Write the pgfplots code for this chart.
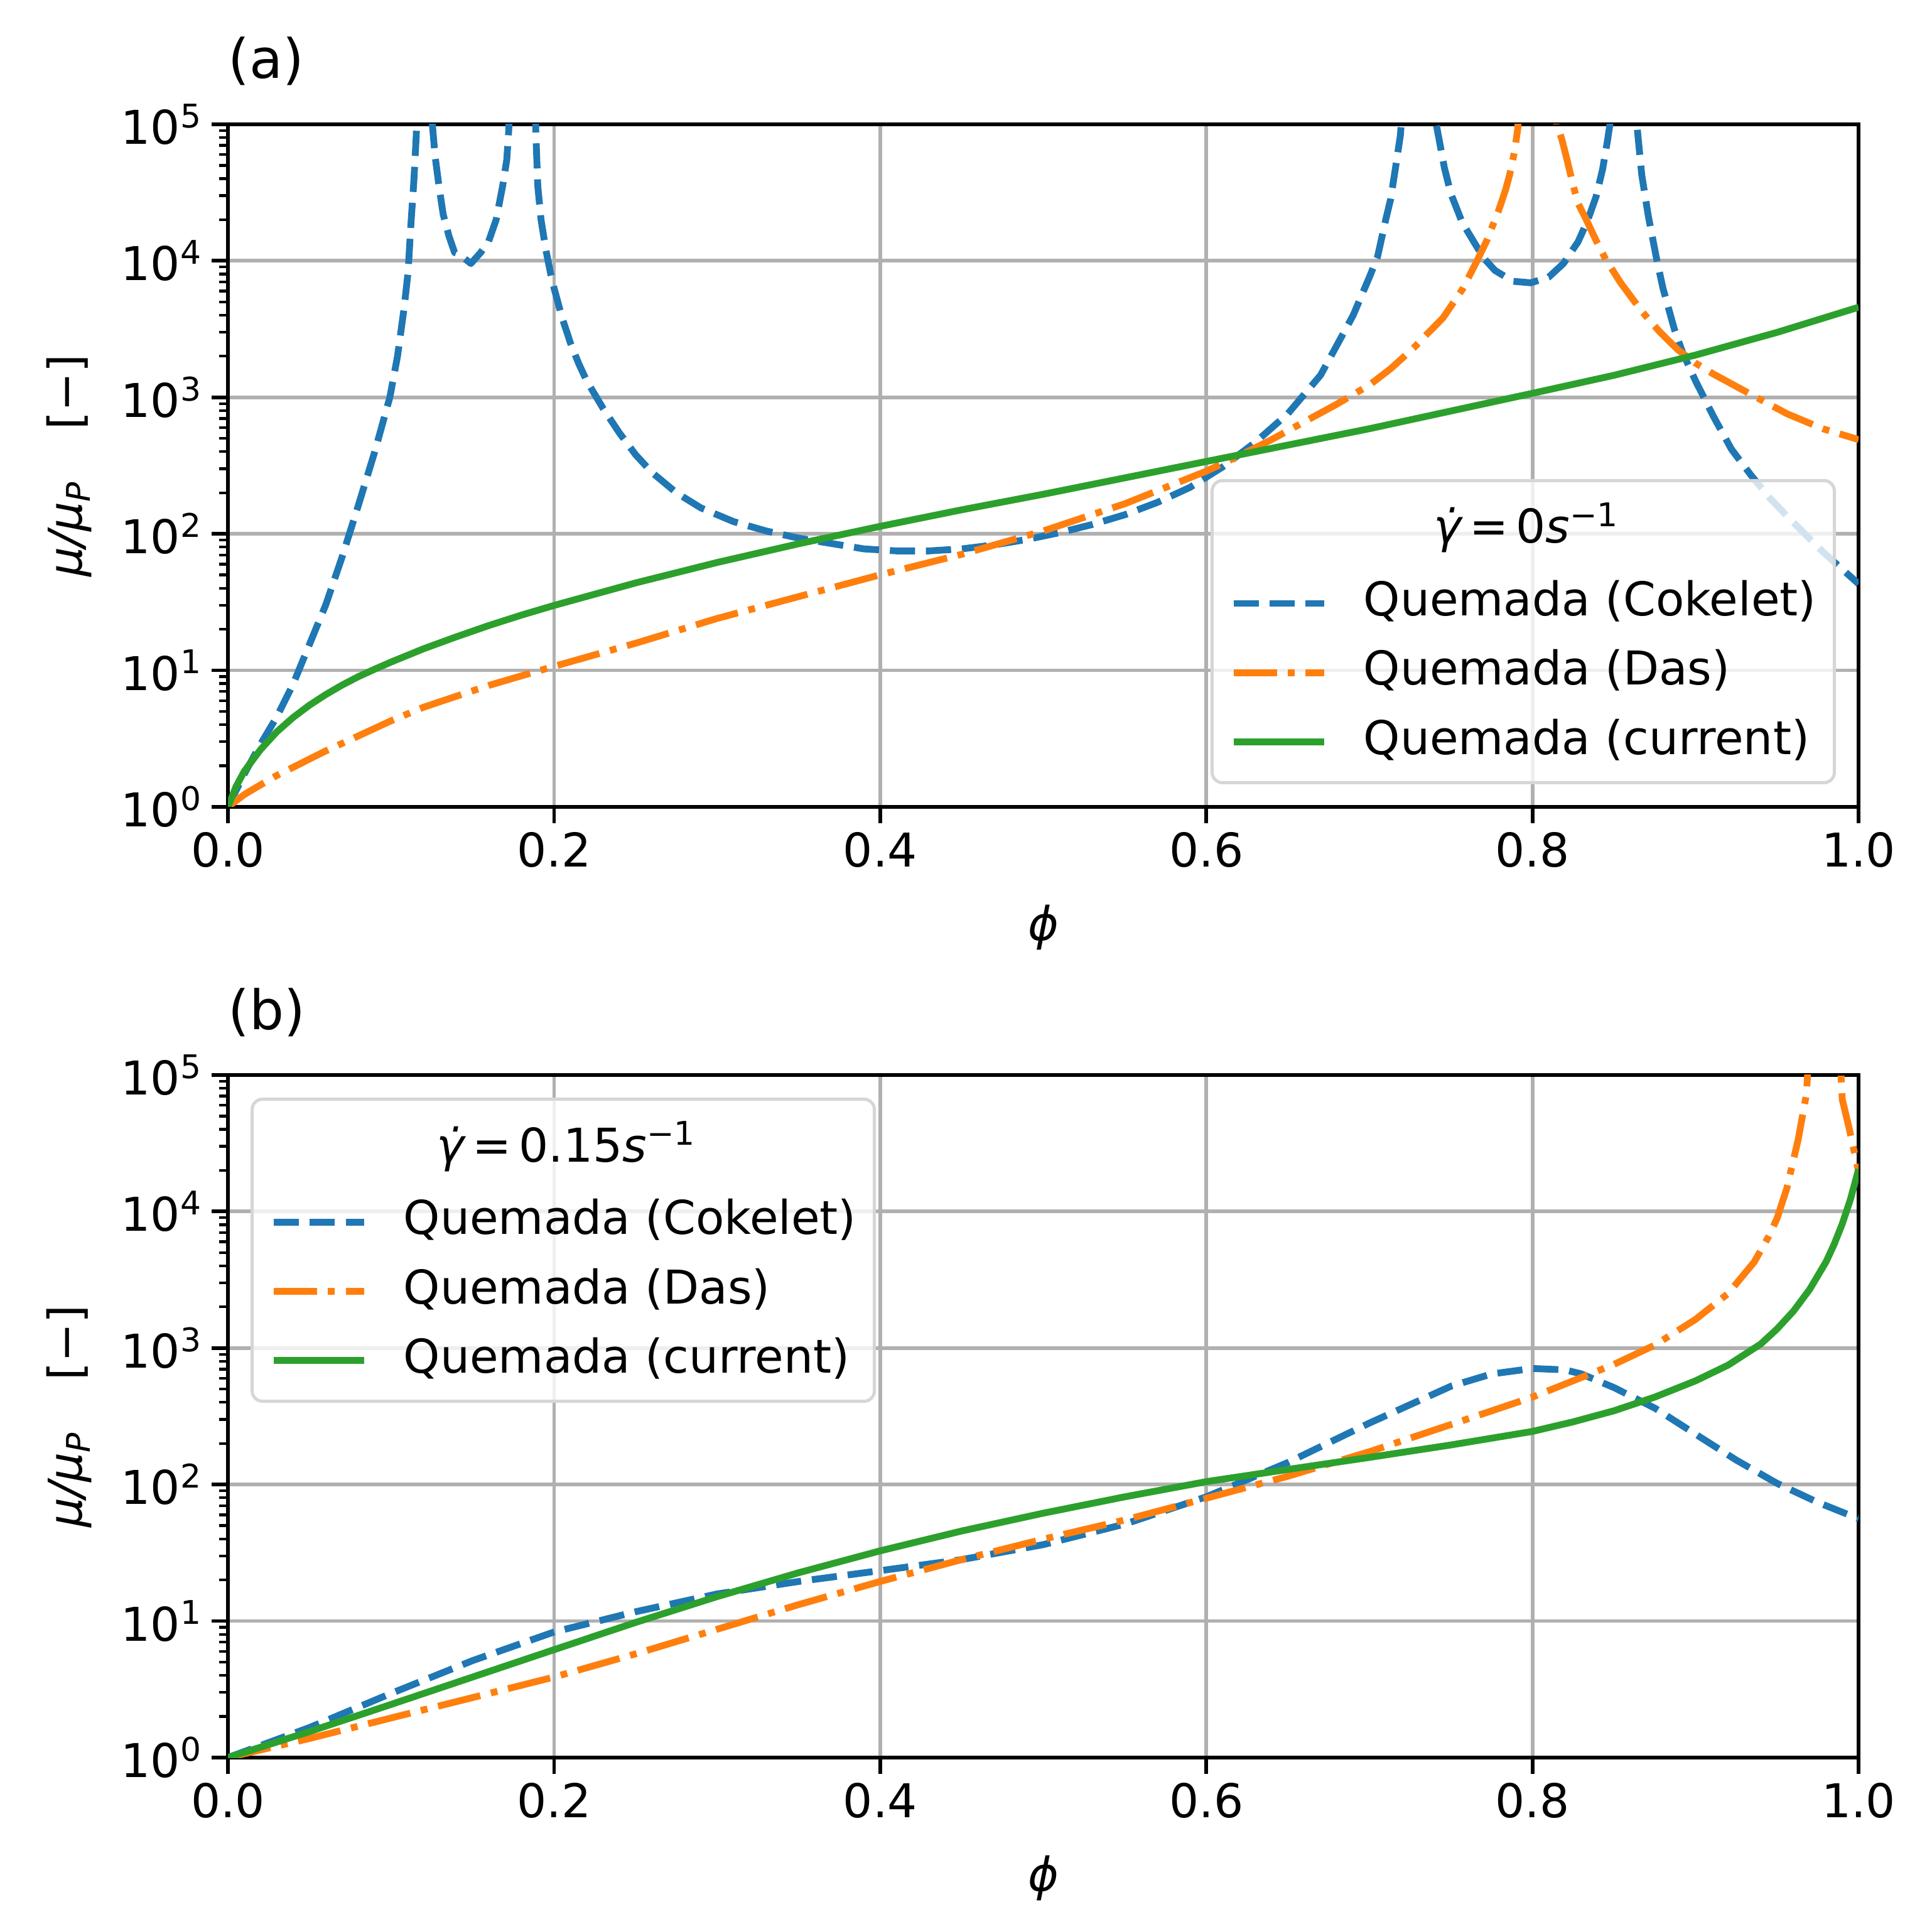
\documentclass[border=0pt]{standalone}
\usepackage{fontspec}
\setmainfont{DejaVu Sans}
\usepackage{pgfplots}
\pgfplotsset{compat=1.18}
\definecolor{c0}{HTML}{1F77B4}
\definecolor{c1}{HTML}{FF7F0E}
\definecolor{c2}{HTML}{2CA02C}
\definecolor{gridgray}{HTML}{B0B0B0}
\newcommand\fs{\fontsize{17.8}{21.4}\selectfont}
\newlength\legW
\newcommand\rs{\rule[-4pt]{0pt}{17pt}}
\tikzset{
 cok/.style={color=c0, line width=2.6pt, dash pattern=on 9.62pt off 4.16pt, line cap=butt, line join=round},
 das/.style={color=c1, line width=2.6pt, dash pattern=on 16.64pt off 4.16pt on 2.6pt off 4.16pt, line cap=butt, line join=round},
 cur/.style={color=c2, line width=2.6pt, line join=round},
}
\pgfplotsset{
 myax/.style={
  scale only axis, width=623.3pt, height=260.9pt,
  xmin=0, xmax=1, ymin=1, ymax=100000,
  xtick={0,0.2,0.4,0.6,0.8,1}, xticklabels={0.0,0.2,0.4,0.6,0.8,1.0},
  ytick={1,10,100,1000,10000,100000},
  yticklabels={10\textsuperscript{0},10\textsuperscript{1},10\textsuperscript{2},10\textsuperscript{3},10\textsuperscript{4},10\textsuperscript{5}},
  minor ytick={2,3,4,5,6,7,8,9,20,30,40,50,60,70,80,90,200,300,400,500,600,700,800,900,2000,3000,4000,5000,6000,7000,8000,9000,20000,30000,40000,50000,60000,70000,80000,90000},
  tick align=outside, xtick pos=bottom, ytick pos=left,
  major tick length=6.24pt, minor tick length=3.4pt,
  major tick style={black, line width=1.38pt},
  minor tick style={black, line width=1.04pt},
  grid=major, major grid style={color=gridgray, line width=1.38pt},
  axis line style={line width=1.38pt},
  tick label style={font=\fs},
  xlabel={\textit{ϕ}},
  ylabel={\textit{μ/μ}\textsubscript{\textit{P}}\hspace{1.1em}[−]},
  xlabel style={at={(axis description cs:0.5,0)}, anchor=base, yshift=-50.9pt, inner sep=0pt, font=\fs},
  ylabel style={at={([xshift=-55.7pt]axis description cs:0,0.5)}, anchor=base, inner sep=0pt, font=\fs},
  title style={at={(axis description cs:0,1)}, anchor=base west, yshift=11.5pt, inner sep=0pt, font=\fontsize{20.8}{25}\selectfont},
  legend cell align=left,
  legend style={font=\fs, draw=black!16, line width=1.2pt, rounded corners=4pt, fill=white, fill opacity=0.8, draw opacity=1, text opacity=1,
    inner xsep=6.9pt, inner ysep=6.9pt, column sep=13.8pt, row sep=8.9pt, nodes={inner sep=0pt, text depth=}},
  legend image code/.code={\draw[##1] (0pt,0pt) -- (34.6pt,0pt);},
 }
}
\begin{document}%
\settowidth{\legW}{\fs Quemada (Cokelet)}%
\begin{tikzpicture}
\path[use as bounding box] (0,0) rectangle (738.48pt,737.04pt);
\begin{axis}[ymode=log, myax, at={(87.12pt,428.64pt)}, anchor=south west, title={(a)},
  legend style={at={(1,0)}, anchor=south east, xshift=-8.65pt, yshift=8.65pt}]
\addlegendimage{empty legend}
\addlegendentry{\hspace*{-48.4pt}\makebox[\dimexpr\legW+48.4pt\relax][c]{\rule[-5.4pt]{0pt}{22.4pt}\textit{γ̇}\,=\,0\textit{s}\textsuperscript{−1}}}
\addplot[cok] coordinates {
(0.000,1) (0.010,1.74) (0.020,2.88) (0.030,4.57) (0.040,7.94) (0.050,15.5) (0.060,30.2) (0.070,67.6) (0.080,162) (0.090,398)
(0.0993,1000) (0.104,2000) (0.108,4470) (0.1105,8300) (0.112,17000) (0.114,38000) (0.1155,83000) (0.117,300000) (0.120,10000000)
(0.1235,300000) (0.125,112000) (0.127,58900) (0.1295,34700) (0.132,21900) (0.1356,15100) (0.139,11500) (0.1416,11200) (0.149,9550)
(0.155,11500) (0.1598,13800) (0.1645,20000) (0.1685,35500) (0.1710,55000) (0.1722,90000) (0.1735,300000) (0.180,10000000)
(0.1878,300000) (0.1888,89000) (0.190,35500) (0.192,20000) (0.195,12000) (0.198,7940) (0.200,6310) (0.205,3800) (0.210,2510)
(0.215,1780) (0.220,1320) (0.230,832) (0.240,550) (0.250,380) (0.260,282) (0.275,200) (0.290,155) (0.310,123) (0.330,105)
(0.350,93) (0.370,85) (0.390,77.6) (0.410,75) (0.430,75) (0.450,77.6) (0.470,83) (0.490,91) (0.510,102) (0.530,117)
(0.550,138) (0.570,170) (0.590,219) (0.610,309) (0.630,468) (0.650,759) (0.660,1050) (0.670,1450) (0.680,2400) (0.690,3980)
(0.700,7590) (0.705,10700) (0.710,20000) (0.713,28200) (0.716,47900) (0.719,83000) (0.7225,300000) (0.731,10000000) (0.739,300000)
(0.741,100000) (0.746,47900) (0.750,30900) (0.757,19000) (0.764,13800) (0.770,10500) (0.777,8500) (0.788,7080) (0.799,6900)
(0.810,7600) (0.819,9550) (0.828,13800) (0.834,20000) (0.839,29500) (0.843,46800) (0.846,75900) (0.8475,100000) (0.850,300000)
(0.855,10000000) (0.862,300000) (0.864,100000) (0.867,42700) (0.871,21400) (0.876,10500) (0.880,6310) (0.887,3160) (0.892,2140)
(0.900,1320) (0.911,724) (0.922,417) (0.934,269) (0.945,186) (0.956,135) (0.978,74) (1.000,43)
};
\addlegendentry{\rs Quemada (Cokelet)}
\addplot[das] coordinates {
(0,1) (0.01,1.23) (0.02,1.45) (0.03,1.70) (0.04,1.95) (0.05,2.24) (0.06,2.57) (0.08,3.31) (0.10,4.27) (0.12,5.37)
(0.14,6.46) (0.16,7.76) (0.18,9.12) (0.20,10.7) (0.25,15.8) (0.30,24.0) (0.35,34.7) (0.40,50.1) (0.45,70.8) (0.50,105)
(0.55,166) (0.60,288) (0.62,372) (0.64,490) (0.66,661) (0.68,891) (0.70,1230) (0.713,1620) (0.727,2290) (0.735,2880)
(0.745,3800) (0.757,6170) (0.766,10000) (0.772,14100) (0.779,22900) (0.7835,33100) (0.786,42700) (0.789,63100) (0.791,93300)
(0.793,300000) (0.800,10000000) (0.812,300000) (0.815,100000) (0.818,77600) (0.821,56200) (0.825,35500) (0.828,26300)
(0.833,20000) (0.839,14100) (0.845,10200) (0.854,6920) (0.867,4270) (0.878,3020) (0.889,2240) (0.900,1780) (0.911,1480)
(0.934,1050) (0.956,759) (0.978,589) (1.000,490)
};
\addlegendentry{\rs Quemada (Das)}
\addplot[cur] coordinates {
(0,1) (0.005,1.41) (0.01,1.82) (0.02,2.63) (0.03,3.55) (0.04,4.52) (0.05,5.56) (0.06,6.65) (0.07,7.80) (0.08,9.0)
(0.09,10.2) (0.10,11.5) (0.12,14.4) (0.14,17.6) (0.16,21.3) (0.18,25.4) (0.20,29.9) (0.25,43.7) (0.30,61.7) (0.35,84.6)
(0.40,113.5) (0.45,150) (0.50,195) (0.55,257) (0.60,339) (0.65,447) (0.70,589) (0.75,794) (0.80,1070) (0.85,1450)
(0.90,2040) (0.95,2990) (1.00,4570)
};
\addlegendentry{\rs Quemada (current)}
\end{axis}
\begin{axis}[ymode=log, myax, at={(87.12pt,65.28pt)}, anchor=south west, title={(b)},
  legend style={at={(0,1)}, anchor=north west, xshift=8.65pt, yshift=-8.65pt}]
\addlegendimage{empty legend}
\addlegendentry{\hspace*{-48.4pt}\makebox[\dimexpr\legW+48.4pt\relax][c]{\rule[-5.4pt]{0pt}{22.4pt}\textit{γ̇}\,=\,0.15\textit{s}\textsuperscript{−1}}}
\addplot[cok] coordinates {
(0,1) (0.05,1.66) (0.10,2.95) (0.15,5.13) (0.20,8.32) (0.25,11.7) (0.30,15.8) (0.35,19.5) (0.40,23.4) (0.45,28.2)
(0.50,36.3) (0.55,51.3) (0.60,81.3) (0.65,145) (0.70,282) (0.75,525) (0.775,646) (0.80,708) (0.82,692) (0.83,646)
(0.85,513) (0.875,363) (0.90,234) (0.925,151) (0.95,102) (0.975,74) (1.00,56.2)
};
\addlegendentry{\rs Quemada (Cokelet)}
\addplot[das] coordinates {
(0,1) (0.05,1.38) (0.10,1.95) (0.15,2.75) (0.20,3.89) (0.25,5.75) (0.30,8.71) (0.35,13.2) (0.40,19.5) (0.45,28.2)
(0.50,39.8) (0.55,55.0) (0.60,79.4) (0.65,115) (0.70,174) (0.75,275) (0.80,437) (0.85,759) (0.875,1050) (0.90,1620)
(0.92,2510) (0.936,4270) (0.945,6610) (0.95,8910) (0.956,14800) (0.963,33900) (0.968,72400) (0.971,300000) (0.98,10000000)
(0.987,300000) (0.99,66000) (0.994,41700) (1.00,19500)
};
\addlegendentry{\rs Quemada (Das)}
\addplot[cur] coordinates {
(0,1) (0.05,1.55) (0.10,2.45) (0.15,3.89) (0.20,6.17) (0.25,9.77) (0.30,15.1) (0.35,22.6) (0.40,32.7) (0.45,45.7)
(0.50,61.7) (0.55,81.3) (0.60,105) (0.65,129) (0.70,158) (0.75,195) (0.80,245) (0.825,288) (0.85,347) (0.875,437)
(0.90,575) (0.92,750) (0.94,1070) (0.95,1380) (0.96,1860) (0.97,2690) (0.98,4270) (0.985,5750) (0.99,8130) (0.995,12300)
(1.00,20400)
};
\addlegendentry{\rs Quemada (current)}
\end{axis}
\end{tikzpicture}%
\end{document}
